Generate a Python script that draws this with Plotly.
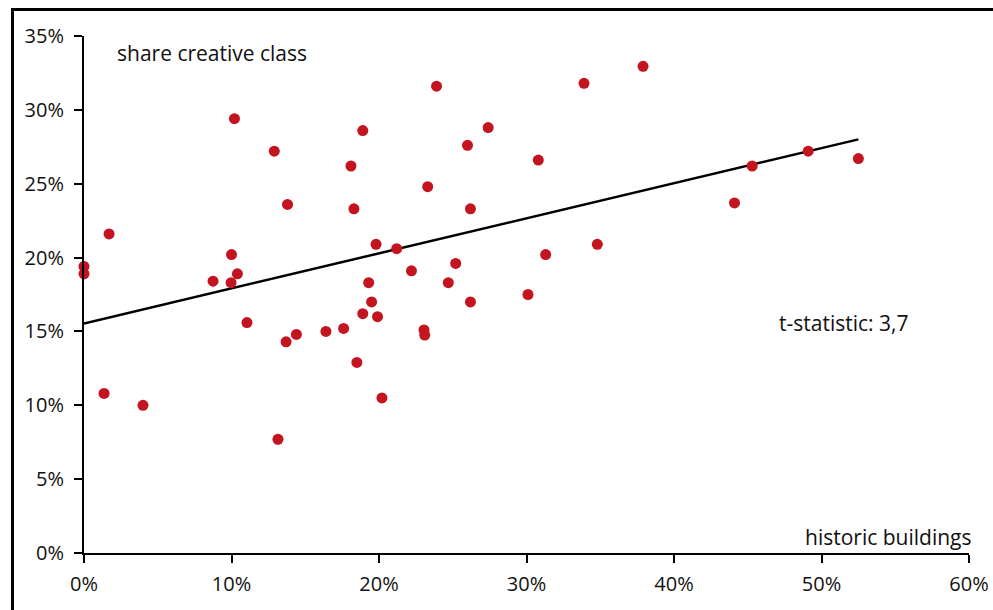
import plotly.graph_objects as go

# Share of historic buildings (x) vs. share of the creative class (y), per city
historic_buildings = [
    0.000, 0.000, 0.017, 0.0136, 0.040, 0.0875, 0.100, 0.0997, 0.104, 0.102,
    0.1105, 0.129, 0.138, 0.137, 0.1315, 0.144, 0.164, 0.176, 0.181, 0.183,
    0.185, 0.189, 0.189, 0.193, 0.195, 0.198, 0.199, 0.202, 0.212, 0.222,
    0.233, 0.2305, 0.231, 0.239, 0.247, 0.252, 0.260, 0.262, 0.262, 0.274,
    0.301, 0.308, 0.313, 0.339, 0.348, 0.379, 0.441, 0.453, 0.491, 0.525,
]
creative_class = [
    0.194, 0.189, 0.216, 0.108, 0.100, 0.184, 0.202, 0.183, 0.189, 0.294,
    0.156, 0.272, 0.236, 0.143, 0.077, 0.148, 0.150, 0.152, 0.262, 0.233,
    0.129, 0.286, 0.162, 0.183, 0.170, 0.209, 0.160, 0.105, 0.206, 0.191,
    0.248, 0.151, 0.1475, 0.316, 0.183, 0.196, 0.276, 0.233, 0.170, 0.288,
    0.175, 0.266, 0.202, 0.318, 0.209, 0.3295, 0.237, 0.262, 0.272, 0.267,
]

# Fitted regression line endpoints
trend_x = [0.0, 0.525]
trend_y = [0.1554, 0.280]

x_ticks = [0.0, 0.1, 0.2, 0.3, 0.4, 0.5, 0.6]
y_ticks = [0.0, 0.05, 0.10, 0.15, 0.20, 0.25, 0.30, 0.35]

FONT = "Open Sans"
TICK_SIZE = 20
NOTE_SIZE = 21
INK = "#111"

fig = go.Figure()
fig.add_trace(go.Scatter(
    x=trend_x, y=trend_y, mode="lines",
    line=dict(color="black", width=2.5),
    hoverinfo="skip", showlegend=False,
))
fig.add_trace(go.Scatter(
    x=historic_buildings, y=creative_class, mode="markers",
    marker=dict(color="#c3141f", size=11, line=dict(width=0)),
    cliponaxis=False, showlegend=False,
))

axis_common = dict(
    showgrid=False, zeroline=False, showline=True, automargin=False,
    linecolor="black", linewidth=2,
    ticks="outside", ticklen=8, tickwidth=2, tickcolor="black",
    tickformat=".0%", tickfont=dict(family=FONT, size=TICK_SIZE, color=INK),
)

note_font = dict(family=FONT, size=NOTE_SIZE, color=INK)

fig.update_layout(
    width=993, height=610,
    margin=dict(l=84, r=24, t=36, b=57),
    paper_bgcolor="white", plot_bgcolor="white",
    font=dict(family=FONT, size=TICK_SIZE, color=INK),
    xaxis=dict(range=[0, 0.6], tickvals=x_ticks, ticklabelstandoff=4, **axis_common),
    yaxis=dict(range=[0, 0.35], tickvals=y_ticks, ticklabelstandoff=6, **axis_common),
    annotations=[
        dict(text="share creative class", xref="paper", yref="paper",
             x=0.035, y=0.9675, xanchor="left", yanchor="middle", showarrow=False,
             font=note_font),
        dict(text="historic buildings", xref="paper", yref="paper",
             x=1.004, y=0.031, xanchor="right", yanchor="middle", showarrow=False,
             font=note_font),
        dict(text="t-statistic: 3,7", xref="paper", yref="paper",
             x=0.783, y=0.444, xanchor="left", yanchor="middle", showarrow=False,
             font=note_font),
    ],
    shapes=[
        dict(type="rect", xref="paper", yref="paper",
             x0=-0.0808, x1=1.04, y0=-0.15, y1=1.0513,
             line=dict(color="black", width=3), fillcolor="rgba(0,0,0,0)",
             layer="below"),
    ],
)

fig.write_html("out.html")
